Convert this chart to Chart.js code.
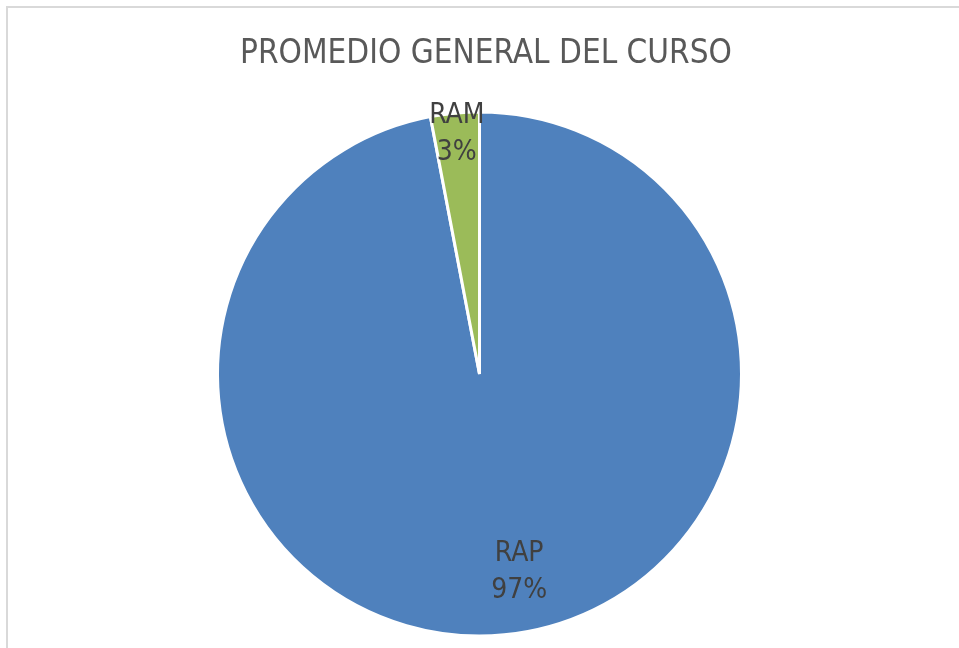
<!DOCTYPE html>
<html>
<head>
<meta charset="utf-8">
<script src="https://cdn.jsdelivr.net/npm/chart.js@4"></script>
<style>
  html, body { margin: 0; padding: 0; background: #ffffff; overflow: hidden; }
  #frame { position: absolute; left: 6px; top: 6px; width: 980px; height: 700px;
           border-top: 2px solid #d9d9d9; border-left: 2px solid #d9d9d9; box-sizing: border-box; }
  #wrap { position: absolute; left: 0; top: 0; width: 959px; height: 648px; }
</style>
</head>
<body>
<div id="frame"></div>
<div id="wrap"><canvas id="c" width="959" height="648"></canvas></div>
<script>
const titleText = 'PROMEDIO GENERAL DEL CURSO';
const categories = ['RAP', 'RAM'];
const values = [97, 3];
const sliceColors = ['#4F81BD', '#9BBB59'];

const FONT = "'Liberation Sans Narrow', 'DejaVu Sans Condensed', 'Liberation Sans', sans-serif";

const titleDraw = {
  id: 'titleDraw',
  afterDraw(chart, args, opts) {
    const ctx = chart.ctx;
    ctx.save();
    ctx.font = opts.size + 'px ' + FONT;
    ctx.fillStyle = opts.color;
    ctx.textAlign = 'center';
    ctx.textBaseline = 'middle';
    ctx.fillText(opts.text, opts.x, opts.y);
    ctx.restore();
  }
};

const pieLabels = {
  id: 'pieLabels',
  afterDatasetsDraw(chart, args, opts) {
    const ctx = chart.ctx;
    const meta = chart.getDatasetMeta(0);
    const data = chart.data.datasets[0].data;
    const total = data.reduce((a, b) => a + b, 0);
    ctx.save();
    ctx.font = opts.size + 'px ' + FONT;
    ctx.fillStyle = opts.color;
    ctx.textAlign = 'center';
    ctx.textBaseline = 'middle';
    meta.data.forEach((arc, i) => {
      const p = opts.pos[i];
      const ang = arc.startAngle + (arc.endAngle - arc.startAngle) * p.f;
      const r = arc.outerRadius * p.r;
      const x = arc.x + Math.cos(ang) * r;
      const y = arc.y + Math.sin(ang) * r;
      const pct = Math.round(data[i] / total * 100) + '%';
      ctx.fillText(chart.data.labels[i], x, y - opts.gap / 2);
      ctx.fillText(pct, x, y + opts.gap / 2);
    });
    ctx.restore();
  }
};

new Chart(document.getElementById('c'), {
  type: 'pie',
  data: {
    labels: categories,
    datasets: [{
      data: values,
      backgroundColor: sliceColors,
      borderColor: '#ffffff',
      borderWidth: 3
    }]
  },
  options: {
    responsive: false,
    animation: false,
    radius: 262,
    layout: { padding: { top: 100, bottom: 0, left: 0, right: 0 } },
    plugins: {
      legend: { display: false },
      tooltip: { enabled: false },
      title: { display: false },
      titleDraw: { text: titleText, size: 33, color: '#595959', x: 486, y: 54 },
      pieLabels: {
        size: 28,
        color: '#404040',
        gap: 37,
        pos: [ { f: 0.483, r: 0.77 }, { f: 0.5, r: 0.92 } ]
      }
    }
  },
  plugins: [pieLabels, titleDraw]
});
</script>
</body>
</html>
